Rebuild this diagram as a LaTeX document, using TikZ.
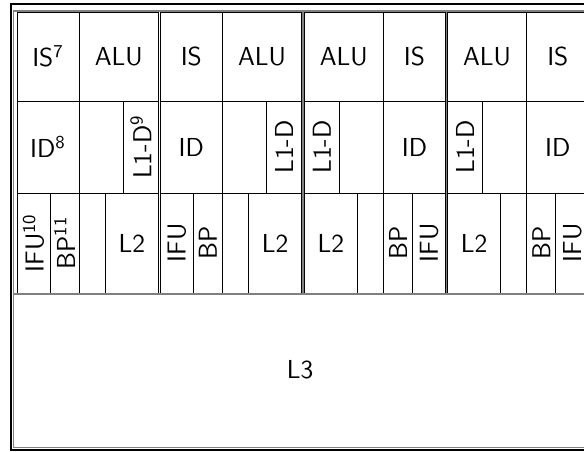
\documentclass[tikz,border=0pt]{standalone}
\usepackage{tikz}

\begin{document}
\begin{tikzpicture}[
    x=0.5pt, y=-0.5pt,
    cell/.style={draw, line width=0.5pt},
    lbl/.style={font=\fontsize{13}{15}\selectfont\sffamily, inner sep=0pt},
    vlbl/.style={lbl, rotate=90}
]
\useasboundingbox (0,0) rectangle (584,451);
\clip (0,0) rectangle (584,451);
% chip frame
\draw[line width=1.1pt] (11,4) rectangle (594,450);
\draw[gray, line width=0.7pt] (13.5,11) rectangle (591.5,447.5);
% four cores (3 and 4 mirrored)
\foreach \k/\xo/\d in {1/17/1, 2/160.3/1, 3/445.5/-1, 4/588.8/-1}{
    \begin{scope}[shift={(\xo,12)}, xscale=\d]
        % row 1
        \draw[cell] (0,0) rectangle (62,89);
        \draw[cell] (62,0) rectangle (141.5,89);
        % row 2
        \draw[cell] (0,89) rectangle (62,181);
        \draw[cell] (62,89) rectangle (106,181);
        \draw[cell] (106,89) rectangle (141.5,181);
        % row 3
        \draw[cell] (0,181) rectangle (33,281);
        \draw[cell] (33,181) rectangle (62,281);
        \draw[cell] (62,181) rectangle (88,281);
        \draw[cell] (88,181) rectangle (141.5,281);
        % labels
        \node[lbl]  (IS\k)  at (31,44.5)     {IS\ifnum\k=1 \textsuperscript{7}\fi};
        \node[lbl]  (ALU\k) at (101.75,44.5) {ALU};
        \node[lbl]  (ID\k)  at (31,135)      {ID\ifnum\k=1 \textsuperscript{8}\fi};
        \node[vlbl] (LD\k)  at (123.75,135)  {L1-D\ifnum\k=1 \textsuperscript{9}\fi};
        \node[vlbl] (IFU\k) at (16.5,231)    {IFU\ifnum\k=1 \textsuperscript{10}\fi};
        \node[vlbl] (BP\k)  at (47.5,231)    {BP\ifnum\k=1 \textsuperscript{11}\fi};
        \node[lbl]  (LL\k)  at (114.75,231)  {L2};
    \end{scope}
}
% gray seams of the mirrored cores
\draw[gray, line width=0.6pt] (302.9,11) -- (302.9,293);
\draw[gray, line width=0.6pt] (446.4,11) -- (446.4,293);
% shared cache
\draw[gray, line width=0.7pt] (13.5,294) -- (591.5,294);
\node[lbl] (L3) at (300,370) {L3};
\end{tikzpicture}
\end{document}
